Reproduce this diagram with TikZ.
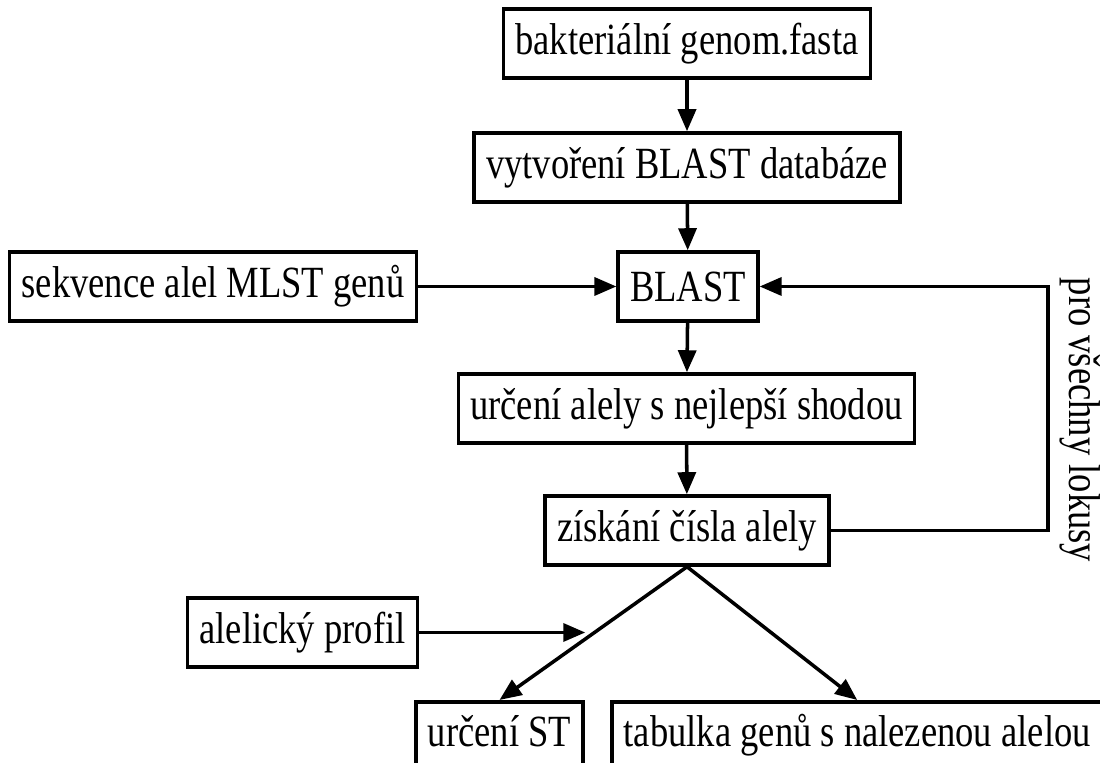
\documentclass[tikz,border=0pt]{standalone}
\usepackage{fontspec}
\setmainfont{Liberation Serif}
\usepackage{tikz}
\usetikzlibrary{calc}
\usetikzlibrary{arrows.meta}

\newcommand{\vyska}[1]{\scalebox{1}[1.22]{#1}}

\tikzset{
  krok/.style={draw, line width=1pt, inner xsep=0.12cm, minimum height=0.69cm, font=\fontsize{10.4}{12}\selectfont},
  sipka/.style={line width=1pt, -{Triangle[length=0.22cm, width=0.18cm]}}
}

\begin{document}
\begin{tikzpicture}

\useasboundingbox (0, 0) rectangle (11, 7.63);
\clip (0, 0) rectangle (11, 7.63);

\node [krok] (genom) at (6.87, 7.195) {\vyska{bakteriální genom.fasta}};
\node [krok] (databaze) at (6.87, 5.955) {\vyska{vytvoření BLAST databáze}};
\node [krok] (sekvence) at (2.13, 4.765) {\vyska{sekvence alel MLST genů}};
\node [krok] (blast) at (6.88, 4.765) {\vyska{BLAST}};
\node [krok] (shoda) at (6.865, 3.545) {\vyska{určení alely s nejlepší shodou}};
\node [krok] (cislo) at (6.87, 2.325) {\vyska{získání čísla alely}};
\node [krok] (profil) at (3.025, 1.305) {\vyska{alelický profil}};
\node [krok, anchor=north, text height=0.33cm, text depth=0.4cm] (st) at (4.995, 0.63) {\vyska{určení ST}};
\node [krok, anchor=north west, text height=0.33cm, text depth=0.4cm] (tabulka) at (6.10, 0.63) {\vyska{tabulka genů s nalezenou alelou}};

\draw [sipka] (genom) -- (databaze);
\draw [sipka] (databaze) -- (blast);
\draw [sipka] (sekvence) -- (blast);
\draw [sipka] (blast) -- (shoda);
\draw [sipka] (shoda) -- (cislo);

\coordinate (smycka) at (10.48, 0);
\draw [sipka] (cislo.east) -- (cislo.east -| smycka) -- (blast.east -| smycka) -- (blast.east);
\node [rotate=-90, font=\fontsize{10.4}{12}\selectfont] (lokusy) at (10.80, 3.43) {\vyska{pro všechny lokusy}};

\coordinate (spoj) at ($(cislo.south)!0.5!(st.north)$);
\draw [sipka] (cislo.south) -- (st.north);
\draw [sipka] (cislo.south) -- (tabulka.north);
\draw [sipka, shorten >=0.08cm] (profil.east) -- (profil.east -| spoj);

\end{tikzpicture}
\end{document}
